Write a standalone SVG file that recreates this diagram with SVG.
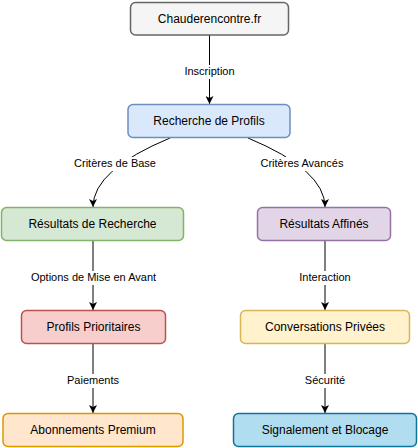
<svg xmlns="http://www.w3.org/2000/svg" width="418" height="448" viewBox="0 0 418 448">
<style>
.n{stroke-width:1.5}
.t{font-family:"Liberation Sans",Arial,sans-serif;font-size:12px;fill:#000;text-anchor:middle}
.e{fill:none;stroke:#000;stroke-width:1}
.b{fill:#fff;stroke:none}
.l{font-family:"Liberation Sans",Arial,sans-serif;font-size:11px;fill:#000;text-anchor:middle}
</style>
<defs>
<marker id="ah" viewBox="0 0 10 10" refX="10" refY="5" markerWidth="8" markerHeight="8" markerUnits="userSpaceOnUse" orient="auto">
<path d="M0,0 L10,5 L0,10 L2.5,5 Z" fill="#000"/>
</marker>
</defs>
<rect width="418" height="448" fill="#fff"/>
<g id="connectors">
<path class="e" d="M209.5,35 L209.5,104" marker-end="url(#ah)"/>
<path class="e" d="M170,138 Q93,170 93,207" marker-end="url(#ah)"/>
<path class="e" d="M248,138 Q325,170 325,207" marker-end="url(#ah)"/>
<path class="e" d="M93,241 L93,310" marker-end="url(#ah)"/>
<path class="e" d="M325,241 L325,310" marker-end="url(#ah)"/>
<path class="e" d="M93,344 L93,413" marker-end="url(#ah)"/>
<path class="e" d="M325,344 L325,413" marker-end="url(#ah)"/>
<rect class="b" x="182" y="65" width="55" height="14"/>
<rect class="b" x="73" y="157" width="84" height="14"/>
<rect class="b" x="257" y="157" width="90" height="14"/>
<rect class="b" x="30" y="271" width="127" height="14"/>
<rect class="b" x="296" y="271" width="58" height="14"/>
<rect class="b" x="66" y="374" width="54" height="14"/>
<rect class="b" x="303" y="374" width="44" height="14"/>
<text class="l" x="209.5" y="75">Inscription</text>
<text class="l" x="115" y="167">Critères de Base</text>
<text class="l" x="302" y="167">Critères Avancés</text>
<text class="l" x="93.5" y="281">Options de Mise en Avant</text>
<text class="l" x="325" y="281">Interaction</text>
<text class="l" x="93" y="384">Paiements</text>
<text class="l" x="325" y="384">Sécurité</text>
</g>
<g id="chauderencontre">
<rect class="n" x="130.5" y="2.5" width="158" height="32.5" rx="5" fill="#f5f5f5" stroke="#666666"/>
<text class="t" x="209.5" y="23">Chauderencontre.fr</text>
</g>
<g id="recherche">
<rect class="n" x="128" y="104.5" width="162" height="33" rx="5" fill="#dae8fc" stroke="#6c8ebf"/>
<text class="t" x="209" y="125">Recherche de Profils</text>
</g>
<g id="resultats">
<rect class="n" x="1.5" y="207.5" width="182" height="33" rx="5" fill="#d5e8d4" stroke="#82b366"/>
<text class="t" x="92.5" y="228">Résultats de Recherche</text>
</g>
<g id="affines">
<rect class="n" x="257.5" y="207.5" width="133" height="33" rx="5" fill="#e1d5e7" stroke="#9673a6"/>
<text class="t" x="324" y="228">Résultats Affinés</text>
</g>
<g id="prioritaires">
<rect class="n" x="21.5" y="310.5" width="144" height="33" rx="5" fill="#f8cecc" stroke="#b85450"/>
<text class="t" x="93.5" y="331">Profils Prioritaires</text>
</g>
<g id="conversations">
<rect class="n" x="240.5" y="310.5" width="169" height="33" rx="5" fill="#fff2cc" stroke="#d6b656"/>
<text class="t" x="325" y="331">Conversations Privées</text>
</g>
<g id="abonnements">
<rect class="n" x="3" y="413.5" width="180" height="33" rx="5" fill="#ffe6cc" stroke="#d79b00"/>
<text class="t" x="93" y="434">Abonnements Premium</text>
</g>
<g id="signalement">
<rect class="n" x="233.5" y="413.5" width="183" height="33" rx="5" fill="#b1ddf0" stroke="#10739e"/>
<text class="t" x="325" y="434">Signalement et Blocage</text>
</g>
</svg>
